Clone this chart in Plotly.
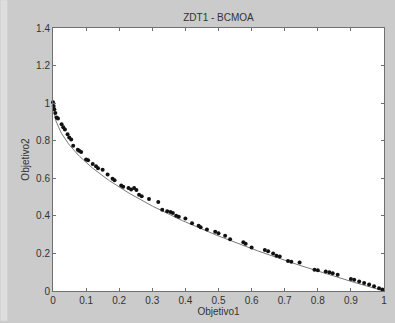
import numpy as np
import plotly.graph_objects as go

# BCMOA solutions (Objetivo1, Objetivo2)
obj1 = [0.000, 0.002, 0.004, 0.007, 0.011, 0.015,
        0.026, 0.031, 0.036, 0.044, 0.049, 0.055, 0.061,
        0.075, 0.079, 0.085, 0.100, 0.106,
        0.120, 0.130, 0.136, 0.150, 0.165, 0.180, 0.186,
        0.206, 0.212, 0.228, 0.236, 0.245, 0.252, 0.260, 0.268,
        0.290, 0.318, 0.330, 0.345, 0.355, 0.362, 0.372, 0.380,
        0.400, 0.420, 0.440, 0.446, 0.465, 0.490, 0.500,
        0.520, 0.535, 0.575, 0.582, 0.600, 0.640, 0.650,
        0.665, 0.675, 0.685, 0.710, 0.720, 0.745,
        0.790, 0.800, 0.824, 0.835, 0.845, 0.860,
        0.900, 0.910, 0.925, 0.940, 0.955, 0.970, 0.985, 0.995]
obj2 = [1.005, 0.985, 0.968, 0.948, 0.924, 0.918,
        0.887, 0.872, 0.860, 0.835, 0.817, 0.806, 0.773,
        0.752, 0.746, 0.740, 0.700, 0.696,
        0.676, 0.664, 0.653, 0.646, 0.620, 0.597, 0.590,
        0.562, 0.555, 0.548, 0.540, 0.548, 0.538, 0.512, 0.505,
        0.490, 0.474, 0.432, 0.425, 0.420, 0.415, 0.400, 0.395,
        0.386, 0.360, 0.347, 0.340, 0.328, 0.315, 0.308,
        0.294, 0.276, 0.259, 0.252, 0.231, 0.218, 0.212,
        0.200, 0.188, 0.183, 0.160, 0.156, 0.152,
        0.113, 0.110, 0.104, 0.100, 0.094, 0.086,
        0.064, 0.060, 0.051, 0.042, 0.034, 0.025, 0.015, 0.008]

x_ticks = [0, 0.1, 0.2, 0.3, 0.4, 0.5, 0.6, 0.7, 0.8, 0.9, 1]
x_tick_labels = ["0", "0.1", "0.2", "0.3", "0.4", "0.5", "0.6", "0.7", "0.8", "0.9", "1"]
y_ticks = [0, 0.2, 0.4, 0.6, 0.8, 1.0, 1.2, 1.4]
y_tick_labels = ["0", "0.2", "0.4", "0.6", "0.8", "1", "1.2", "1.4"]

# true ZDT1 Pareto front
front_x = np.linspace(0, 1, 300)
front_y = 1 - np.sqrt(front_x)

fig = go.Figure()
fig.add_trace(go.Scatter(x=front_x, y=front_y, mode="lines",
                         line=dict(color="#7a7a7a", width=1), hoverinfo="skip"))
fig.add_trace(go.Scatter(x=obj1, y=obj2, mode="markers", cliponaxis=False,
                         marker=dict(color="#111111", size=4, line=dict(width=0))))

axis_common = dict(showline=True, linecolor="#707070", linewidth=1, mirror="ticks",
                   ticks="inside", ticklen=3, tickcolor="#707070", showgrid=False,
                   zeroline=False, tickfont=dict(family="Liberation Sans", size=10, color="#333333"))

fig.update_layout(
    width=395, height=323,
    margin=dict(l=53, r=8, t=28, b=30),
    paper_bgcolor="#cbcbcb", plot_bgcolor="white",
    showlegend=False,
    title=dict(text="ZDT1 - BCMOA", x=0.5, xref="paper", y=1 - 17 / 323, yref="container",
               yanchor="middle", font=dict(family="Liberation Sans", size=10, color="#333333")),
    xaxis=dict(range=[0, 1], tickvals=x_ticks, ticktext=x_tick_labels,
               title=dict(text="Objetivo1", standoff=2,
                          font=dict(family="Liberation Sans", size=10, color="#333333")),
               **axis_common),
    yaxis=dict(range=[0, 1.4], tickvals=y_ticks, ticktext=y_tick_labels,
               title=dict(text="Objetivo2", standoff=4,
                          font=dict(family="Liberation Sans", size=10, color="#333333")),
               **axis_common),
    shapes=[dict(type="rect", xref="paper", yref="paper",
                 x0=-53 / 334, x1=-46 / 334, y0=-30 / 265, y1=1 + 28 / 265,
                 fillcolor="#dedede", line=dict(width=0), layer="below")],
)

fig.write_html("out.html")
